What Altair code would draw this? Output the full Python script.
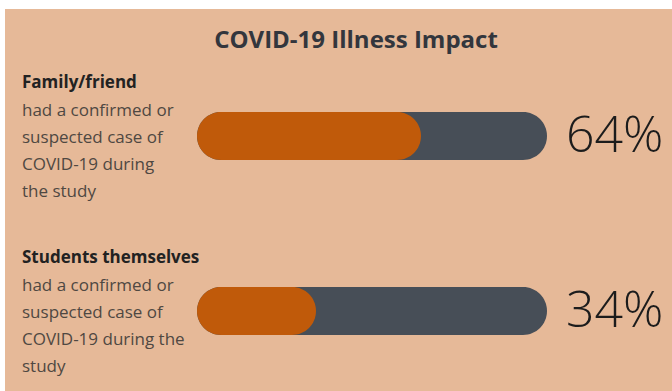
import altair as alt
import pandas as pd

title_text = ["COVID-19 Illness Impact"]
rows = ["Family/friend", "Students themselves"]
values = [64, 34]
totals = [100, 100]
descriptions = [
    ["had a confirmed or", "suspected case of", "COVID-19 during", "the study"],
    ["had a confirmed or", "suspected case of", "COVID-19 during the", "study"],
]

df = pd.DataFrame({"row": rows, "value": values, "total": totals, "desc": descriptions})
tdf = pd.DataFrame({"t": title_text})

PEACH = "#E6B998"
ORANGE = "#C05A0A"
GRAY = "#474E57"
FONT = "Open Sans"

x_scale = alt.Scale(domain=[0, 100], range=[192, 542])
y_scale = alt.Scale(domain=rows, range=[103, 326], paddingInner=0.726, paddingOuter=0)

X = lambda f: alt.X(f, type="quantitative", scale=x_scale, axis=None)
Y = alt.Y("row:N", scale=y_scale, axis=None, sort=rows)

base = alt.Chart(df)

track = base.mark_bar(color=GRAY, cornerRadius=24).encode(x=X("total"), y=Y)
fill = base.mark_bar(color=ORANGE, cornerRadius=24).encode(x=X("value"), y=Y)

pct = base.transform_calculate(label="datum.value + '%'").mark_text(
    align="left", baseline="middle", dx=19, dy=1, font=FONT, fontSize=50,
    fontWeight=300, color="#1c1c1c"
).encode(x=X("total"), y=Y, text="label:N")

heading = base.mark_text(
    align="left", baseline="alphabetic", dy=-48, font=FONT, fontSize=17,
    fontWeight="bold", color="#222222"
).encode(x=alt.value(17), y=Y, text="row:N")

desc = base.mark_text(
    align="left", baseline="alphabetic", dy=-20, lineHeight=27, font=FONT,
    fontSize=17, color="#4f4842"
).encode(x=alt.value(17), y=Y, text="desc")

title = alt.Chart(tdf).mark_text(
    align="center", baseline="alphabetic", font=FONT, fontSize=24,
    fontWeight="bold", color="#33363d"
).encode(x=alt.value(351), y=alt.value(39), text="t:N")

chart = alt.layer(track, fill, pct, heading, desc, title).properties(
    width=667, height=382,
    autosize=alt.AutoSizeParams(type="none"),
    padding={"left": 5, "top": 9, "right": 0, "bottom": 0},
    background="white",
).configure_view(fill=PEACH, strokeWidth=0)

chart.save("out.html", embed_options={"renderer": "svg", "actions": False})
